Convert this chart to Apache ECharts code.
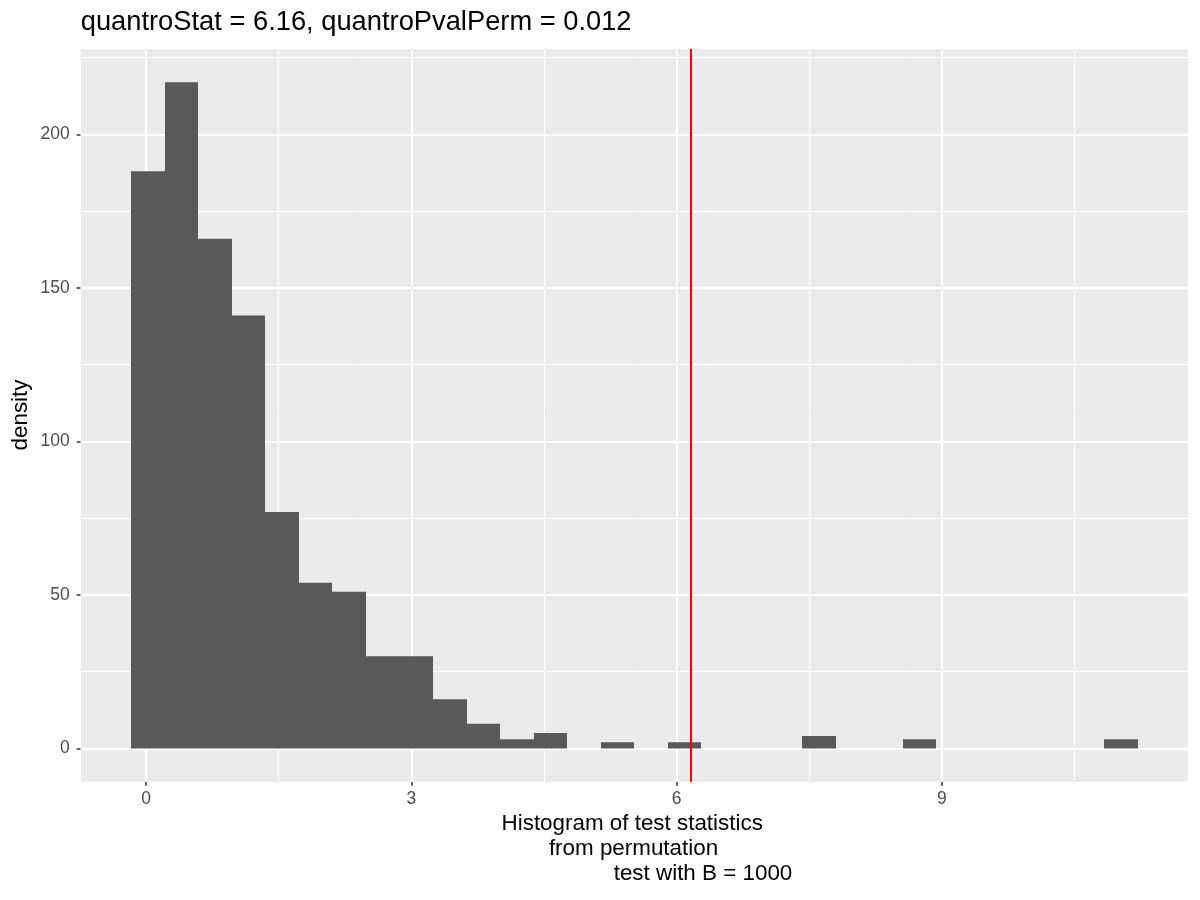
<!DOCTYPE html>
<html>
<head>
<meta charset="utf-8">
<script src="https://cdn.jsdelivr.net/npm/echarts@6/dist/echarts.min.js"></script>
<style>
  html, body { margin: 0; padding: 0; background: #fff; }
  #chart { width: 1200px; height: 900px; }
</style>
</head>
<body>
<div id="chart"></div>
<script>
(function (window, echarts) {
    'use strict';

    // histogram of permutation statistics, 30 bins
    const binStart = -0.1696;
    const binWidth = 0.3795;
    const counts = [188, 217, 166, 141, 77, 54, 51, 30, 30, 16, 8, 3, 5, 0, 2,
                    0, 2, 0, 0, 0, 4, 0, 0, 3, 0, 0, 0, 0, 0, 3];
    const observedStat = 6.16;

    const xBreaks = [0, 3, 6, 9];
    const xMinorBreaks = [1.5, 4.5, 7.5, 10.5];
    const yBreaks = [0, 50, 100, 150, 200];
    const yMinorBreaks = [25, 75, 125, 175, 225];
    const xLimits = [-0.739, 11.784];
    const yLimits = [-10.85, 227.85];

    const titleText = 'quantroStat = 6.16, quantroPvalPerm = 0.012';
    const xTitleLines = ['Histogram of test statistics', 'from permutation', 'test with B = 1000'];
    const yTitle = 'density';

    const font = '"Liberation Sans", Arial, Helvetica, sans-serif';

    const barData = counts.map((c, i) => [binStart + (i + 0.5) * binWidth, c]);

    const gridLines = []
        .concat(xBreaks.map(v => ({xAxis: v, lineStyle: {width: 2}})))
        .concat(xMinorBreaks.map(v => ({xAxis: v, lineStyle: {width: 1}})))
        .concat(yBreaks.map(v => ({yAxis: v, lineStyle: {width: 2}})))
        .concat(yMinorBreaks.map(v => ({yAxis: v, lineStyle: {width: 1}})));

    const axisCommon = {
        type: 'value',
        axisLine: {show: false, onZero: false},
        axisTick: {show: true, length: 4, lineStyle: {color: '#333333', width: 1.5}},
        splitLine: {show: false},
        axisLabel: {color: '#4D4D4D', fontSize: 17.5, fontFamily: font}
    };

    const chart = echarts.init(document.getElementById('chart'), null, {renderer: 'canvas'});

    chart.setOption({
        animation: false,
        backgroundColor: '#ffffff',
        grid: {
            left: 80.7, right: 12, top: 49, bottom: 118.3,
            show: true, backgroundColor: '#EBEBEB', borderWidth: 0
        },
        xAxis: Object.assign({}, axisCommon, {
            min: xLimits[0], max: xLimits[1],
            axisTick: Object.assign({}, axisCommon.axisTick, {customValues: xBreaks}),
            axisLabel: Object.assign({}, axisCommon.axisLabel, {customValues: xBreaks, margin: 8})
        }),
        yAxis: Object.assign({}, axisCommon, {
            min: yLimits[0], max: yLimits[1],
            axisTick: Object.assign({}, axisCommon.axisTick, {customValues: yBreaks}),
            axisLabel: Object.assign({}, axisCommon.axisLabel, {customValues: yBreaks, margin: 11})
        }),
        graphic: [
            {
                type: 'text', x: 80.7, y: 22.5, silent: true,
                style: {text: titleText, font: '27.3px ' + font, fill: '#000000',
                        textAlign: 'left', textVerticalAlign: 'middle'}
            },
            {
                type: 'text', x: 632.2, y: 824, silent: true,
                style: {text: xTitleLines[0], font: '22.4px ' + font, fill: '#000000',
                        textAlign: 'center', textVerticalAlign: 'middle'}
            },
            {
                type: 'text', x: 633.5, y: 849, silent: true,
                style: {text: xTitleLines[1], font: '22.4px ' + font, fill: '#000000',
                        textAlign: 'center', textVerticalAlign: 'middle'}
            },
            {
                type: 'text', x: 703, y: 874, silent: true,
                style: {text: xTitleLines[2], font: '22.4px ' + font, fill: '#000000',
                        textAlign: 'center', textVerticalAlign: 'middle'}
            },
            {
                type: 'text', x: 21, y: 415, rotation: Math.PI / 2, silent: true,
                style: {text: yTitle, font: '22.4px ' + font, fill: '#000000',
                        textAlign: 'center', textVerticalAlign: 'middle'}
            }
        ],
        series: [
            {
                // panel grid lines, drawn under the bars
                type: 'line',
                data: [],
                z: 1,
                silent: true,
                markLine: {
                    z: 1,
                    silent: true,
                    symbol: ['none', 'none'],
                    label: {show: false},
                    lineStyle: {color: '#FFFFFF', type: 'solid'},
                    emphasis: {disabled: true},
                    data: gridLines
                }
            },
            {
                type: 'custom',
                z: 2,
                data: barData,
                renderItem: function (params, api) {
                    const mid = api.value(0);
                    const topLeft = api.coord([mid - binWidth / 2, api.value(1)]);
                    const bottomRight = api.coord([mid + binWidth / 2, 0]);
                    // snap x edges so neighbouring bars meet without seams
                    const x0 = Math.round(topLeft[0]);
                    const x1 = Math.round(bottomRight[0]);
                    return {
                        type: 'rect',
                        shape: {
                            x: x0,
                            y: topLeft[1],
                            width: x1 - x0,
                            height: bottomRight[1] - topLeft[1]
                        },
                        style: {fill: '#595959'}
                    };
                },
                markLine: {
                    z: 5,
                    silent: true,
                    symbol: ['none', 'none'],
                    label: {show: false},
                    lineStyle: {color: '#FF0000', width: 2, type: 'solid'},
                    emphasis: {disabled: true},
                    data: [{xAxis: observedStat}]
                }
            }
        ]
    });

})(window, echarts);
</script>
</body>
</html>
